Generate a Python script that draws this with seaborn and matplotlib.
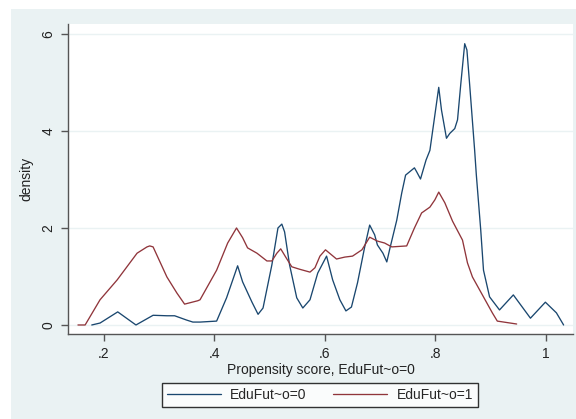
import matplotlib
matplotlib.use("Agg")
import matplotlib.pyplot as plt
import matplotlib.patches as mpatches
import seaborn as sns
import pandas as pd

# Kernel density estimates of the propensity score, by group
x_g0 = [0.178, 0.193, 0.225, 0.258, 0.289, 0.314, 0.328, 0.350, 0.361, 0.374,
        0.404, 0.422, 0.442, 0.451, 0.468, 0.479, 0.488, 0.504, 0.515, 0.522,
        0.527, 0.536, 0.549, 0.560, 0.573, 0.587, 0.603, 0.614, 0.627, 0.638,
        0.648, 0.659, 0.672, 0.681, 0.690, 0.695, 0.705, 0.712, 0.717, 0.730,
        0.739, 0.746, 0.762, 0.766, 0.773, 0.783, 0.790, 0.799, 0.806, 0.811,
        0.820, 0.826, 0.835, 0.840, 0.846, 0.853, 0.857, 0.862, 0.871, 0.874,
        0.882, 0.887, 0.898, 0.916, 0.941, 0.972, 0.999, 1.019, 1.032]
y_g0 = [0.00, 0.04, 0.27, 0.00, 0.20, 0.19, 0.19, 0.10, 0.06, 0.06,
        0.08, 0.56, 1.22, 0.89, 0.47, 0.22, 0.35, 1.24, 2.00, 2.08,
        1.92, 1.24, 0.56, 0.35, 0.52, 1.07, 1.42, 0.93, 0.52, 0.29,
        0.37, 0.87, 1.61, 2.06, 1.86, 1.65, 1.48, 1.30, 1.55, 2.16,
        2.72, 3.09, 3.24, 3.16, 3.01, 3.40, 3.60, 4.33, 4.90, 4.43,
        3.85, 3.95, 4.05, 4.23, 4.98, 5.80, 5.67, 4.95, 3.60, 3.10,
        1.96, 1.13, 0.58, 0.31, 0.62, 0.14, 0.47, 0.25, 0.00]

x_g1 = [0.153, 0.166, 0.193, 0.224, 0.260, 0.278, 0.283, 0.289, 0.314, 0.332,
        0.346, 0.370, 0.374, 0.404, 0.424, 0.440, 0.451, 0.460, 0.477, 0.495,
        0.504, 0.513, 0.520, 0.529, 0.540, 0.554, 0.573, 0.582, 0.591, 0.601,
        0.621, 0.636, 0.650, 0.667, 0.681, 0.695, 0.708, 0.721, 0.748, 0.762,
        0.775, 0.790, 0.799, 0.806, 0.817, 0.831, 0.849, 0.858, 0.867, 0.885,
        0.903, 0.912, 0.947]
y_g1 = [0.00, 0.00, 0.52, 0.93, 1.48, 1.61, 1.63, 1.61, 0.99, 0.66,
        0.43, 0.50, 0.52, 1.13, 1.69, 2.00, 1.80, 1.59, 1.48, 1.32,
        1.32, 1.48, 1.57, 1.40, 1.20, 1.15, 1.09, 1.18, 1.42, 1.55,
        1.36, 1.40, 1.42, 1.55, 1.81, 1.73, 1.69, 1.61, 1.63, 2.00,
        2.31, 2.43, 2.58, 2.74, 2.52, 2.14, 1.75, 1.28, 0.99, 0.62,
        0.25, 0.08, 0.02]

labels = ["EduFut~o=0", "EduFut~o=1"]
x_ticks = [0.2, 0.4, 0.6, 0.8, 1.0]
x_ticklabels = [".2", ".4", ".6", ".8", "1"]
y_ticks = [0, 2, 4, 6]

df = pd.concat([
    pd.DataFrame({"score": x_g0, "density": y_g0, "group": labels[0]}),
    pd.DataFrame({"score": x_g1, "density": y_g1, "group": labels[1]}),
], ignore_index=True)

sns.set_theme(style="white")
plt.rcParams["font.family"] = ["Liberation Sans", "DejaVu Sans"]

bg = "#EAF2F3"
fs = 10
fig = plt.figure(figsize=(5.76, 4.19), dpi=100, facecolor="white")
fig.patches.append(mpatches.Rectangle((11 / 576, 0), 1, 1 - 9 / 419,
                                      transform=fig.transFigure,
                                      facecolor=bg, edgecolor="none", zorder=-10))
ax = fig.add_axes([68 / 576, 1 - 334 / 419, (573 - 68) / 576, (334 - 24) / 419])
ax.set_facecolor("white")

palette = {labels[0]: "#1A476F", labels[1]: "#90353B"}
sns.lineplot(data=df, x="score", y="density", hue="group", palette=palette,
             sort=False, estimator=None, linewidth=0.95, ax=ax, legend=False)

ax.set_xlim(0.135, 1.049)
ax.set_ylim(-0.186, 6.206)
ax.set_xticks(x_ticks)
ax.set_xticklabels(x_ticklabels)
ax.set_yticks(y_ticks)
ax.set_yticklabels([str(v) for v in y_ticks], rotation=90, va="center")
ax.yaxis.grid(True, color=bg, linewidth=1.0)
ax.set_axisbelow(True)

for side in ["top", "right"]:
    ax.spines[side].set_visible(False)
for side in ["left", "bottom"]:
    ax.spines[side].set_color("#555555")
    ax.spines[side].set_linewidth(1.0)
ax.tick_params(axis="both", which="major", direction="out", length=5, width=1,
               color="#555555", labelsize=fs, labelcolor="#222222",
               bottom=True, left=True, pad=4)
ax.set_xlabel("Propensity score, EduFut~o=0", fontsize=fs, color="#222222", labelpad=2)
ax.set_ylabel("density", fontsize=fs, color="#222222", labelpad=6)

handles = [plt.Line2D([], [], color=palette[l], linewidth=0.95) for l in labels]
leg = fig.legend(handles, labels, loc="center", ncol=2,
                 bbox_to_anchor=(320 / 576, 1 - 395 / 419),
                 frameon=True, fancybox=False, fontsize=fs, handlelength=3.9,
                 columnspacing=1.9, handletextpad=0.65, borderpad=0.35,
                 borderaxespad=0)
leg.get_frame().set_edgecolor("black")
leg.get_frame().set_linewidth(1.0)
leg.get_frame().set_facecolor("white")

fig.savefig("out.png", dpi=100, facecolor=fig.get_facecolor())
